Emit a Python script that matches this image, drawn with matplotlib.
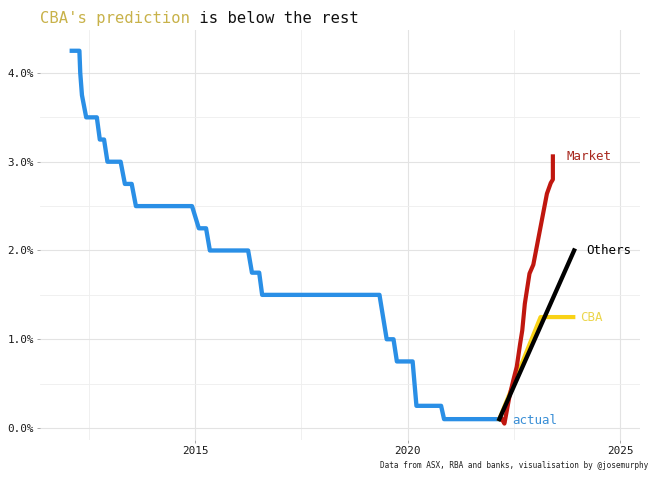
import matplotlib
matplotlib.use("Agg")
import matplotlib.pyplot as plt
from matplotlib.ticker import FixedLocator, FuncFormatter

# ---- data (decimal years, cash rate %) ----
actual_x = [2012.10, 2012.28, 2012.30, 2012.34, 2012.44, 2012.69, 2012.76, 2012.86,
            2012.94, 2013.25, 2013.35, 2013.51, 2013.61, 2014.93, 2015.09, 2015.26,
            2015.35, 2016.25, 2016.34, 2016.51, 2016.58, 2019.34, 2019.51, 2019.67,
            2019.75, 2020.12, 2020.21, 2020.79, 2020.86, 2022.16]
actual_y = [4.25, 4.25, 4.00, 3.75, 3.50, 3.50, 3.25, 3.25,
            3.00, 3.00, 2.75, 2.75, 2.50, 2.50, 2.25, 2.25,
            2.00, 2.00, 1.75, 1.75, 1.50, 1.50, 1.00, 1.00,
            0.75, 0.75, 0.25, 0.25, 0.10, 0.10]

market_x = [2022.22, 2022.28, 2022.40, 2022.49, 2022.57, 2022.65, 2022.70, 2022.76,
            2022.87, 2022.96, 2023.04, 2023.16, 2023.28, 2023.37, 2023.42, 2023.42]
market_y = [0.10, 0.05, 0.36, 0.54, 0.69, 0.95, 1.10, 1.40,
            1.74, 1.84, 2.04, 2.34, 2.64, 2.76, 2.80, 3.06]

others_x = [2022.16, 2023.92]
others_y = [0.10, 2.00]

cba_x = [2022.16, 2023.13, 2023.90]
cba_y = [0.10, 1.25, 1.25]

x_ticks = [2015, 2020, 2025]
x_minor = [2012.5, 2017.5, 2022.5]
y_ticks = [0, 1, 2, 3, 4]
y_minor = [0.5, 1.5, 2.5, 3.5]

title_hl = "CBA's prediction"
title_rest = " is below the rest"
caption = "Data from ASX, RBA and banks, visualisation by @josemurphy"

# ---- styling ----
MONO = ["DejaVu Sans Mono"]
BLUE = "#2a8fe6"
RED = "#c0170f"
YELLOW = "#f9d216"
BLACK = "#000000"

W, H = 650, 488
fig = plt.figure(figsize=(W / 100, H / 100), dpi=100)
fig.patch.set_facecolor("white")
ax = fig.add_axes([40 / W, 1 - 440 / H, 600 / W, 410 / H])

ax.plot(actual_x, actual_y, color=BLUE, lw=3.1, solid_joinstyle="round", zorder=3)
ax.plot(cba_x, cba_y, color=YELLOW, lw=3.0, solid_joinstyle="round", zorder=4)
ax.plot(market_x, market_y, color=RED, lw=3.0, solid_joinstyle="round", zorder=5)
ax.plot(others_x, others_y, color=BLACK, lw=3.1, solid_joinstyle="round", zorder=6)

lab_kw = dict(textcoords="offset points", va="center", ha="left",
              fontsize=9, family=MONO)
ax.annotate("Market", xy=(market_x[-1], market_y[-1]), xytext=(9.5, 0),
            color="#a8281e", **lab_kw)
ax.annotate("Others", xy=(others_x[-1], others_y[-1]), xytext=(9.0, 0),
            color=BLACK, **lab_kw)
ax.annotate("CBA", xy=(cba_x[-1], cba_y[-1]), xytext=(5.0, 0),
            color="#ecd64c", **lab_kw)
ax.annotate("actual", xy=(actual_x[-1], actual_y[-1]), xytext=(9.3, -1),
            color="#3a8fd6", **lab_kw)

ax.set_xlim(2011.353, 2025.47)
ax.set_ylim(-0.135, 4.484)

ax.xaxis.set_major_locator(FixedLocator(x_ticks))
ax.xaxis.set_minor_locator(FixedLocator(x_minor))
ax.yaxis.set_major_locator(FixedLocator(y_ticks))
ax.yaxis.set_minor_locator(FixedLocator(y_minor))
ax.yaxis.set_major_formatter(FuncFormatter(lambda v, p: f"{v:.1f}%"))
ax.xaxis.set_major_formatter(FuncFormatter(lambda v, p: f"{int(v)}"))

ax.grid(which="major", color="#e3e3e3", lw=0.8, zorder=0)
ax.grid(which="minor", color="#eeeeee", lw=0.6, zorder=0)
for s in ax.spines.values():
    s.set_visible(False)
ax.tick_params(which="major", length=2.5, width=0.6, color="#999999",
               labelsize=7.9, pad=2, labelcolor="#1a1a1a")
ax.tick_params(which="minor", length=0)
for lbl in ax.get_xticklabels() + ax.get_yticklabels():
    lbl.set_family(MONO)

t1 = fig.text(40 / W, 1 - 26 / H, title_hl, color="#c8b24a", fontsize=11.2,
              family=MONO, ha="left", va="bottom")
ax.annotate(title_rest, xy=(1, 0), xycoords=t1, ha="left", va="bottom",
            color="#111111", fontsize=11.2, family=MONO, annotation_clip=False)

fig.text(648 / W, 1 - 465 / H, caption, ha="right", va="center",
         fontsize=5.6, family=MONO, color="#222222")

fig.savefig("out.png", dpi=100, facecolor="white")
